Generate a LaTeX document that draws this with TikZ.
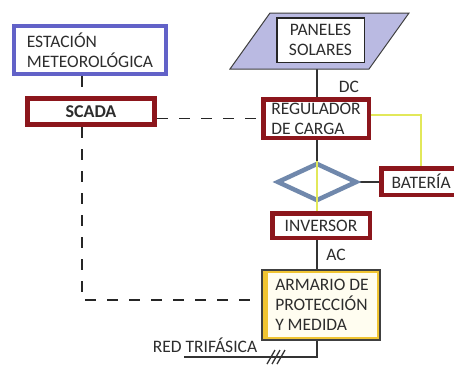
\documentclass[tikz,border=0pt]{standalone}
\usepackage{fontspec}
\setmainfont{Carlito}
\usetikzlibrary{shapes.geometric,calc}
\definecolor{boxred}{RGB}{140,22,28}
\definecolor{estblue}{RGB}{98,98,200}
\definecolor{panfill}{RGB}{186,186,226}
\definecolor{diablue}{RGB}{112,136,172}
\definecolor{ylwline}{RGB}{226,232,90}
\definecolor{goldy}{RGB}{240,196,50}
\definecolor{txt}{RGB}{45,45,45}
\pgfdeclarelayer{bg}
\pgfdeclarelayer{paper}
\pgfsetlayers{paper,bg,main}
\begin{document}
\begin{tikzpicture}[x=1pt,y=-1pt,
  font=\fontsize{17.5}{20}\selectfont, text=txt,
  redbox/.style={draw=boxred, line width=4.5pt, fill=white, inner sep=0pt},
  conn/.style={draw=black!80, line width=1.3pt},
  dsh/.style={draw=black!85, line width=1.3pt, dash pattern=on 11pt off 11pt},
  yl/.style={draw=ylwline, line width=1.5pt},
  lbl/.style={inner sep=0pt}]
\begin{pgfonlayer}{paper}
\fill[white] (0,0) rectangle (454,364);
\end{pgfonlayer}
\useasboundingbox (0,0) rectangle (454,364);

% nodes
\node[draw=estblue, line width=4pt, fill=white, minimum width=152pt, minimum height=48pt,
      align=left, inner sep=0pt] (est) at (90,50) {ESTACIÓN\\METEOROLÓGICA};
\node[redbox, line width=5pt, minimum width=127pt, minimum height=26pt,
      font=\fontsize{18}{20}\selectfont\bfseries] (scada) at (91,111.5) {SCADA};

\path[fill=panfill, draw=black!75, line width=1pt] (270,13) -- (409,13) -- (369,69) -- (230,69) -- cycle;
\node[draw=black!85, line width=1.5pt, fill=white, minimum width=87.5pt, minimum height=44.5pt,
      align=center, inner sep=0pt] (pan) at (320.5,40) {PANELES\\SOLARES};
\coordinate (panb) at (317,69);

\node[redbox, minimum width=105.5pt, minimum height=38.5pt, align=left] (reg) at (316,118.5) {REGULADOR\\DE CARGA};
\node[diamond, draw=diablue, line width=4.5pt, fill=white, aspect=2, inner sep=0pt,
      minimum width=80pt, minimum height=38pt] (dia) at (317,182) {};
\node[redbox, minimum width=86.5pt, minimum height=26.5pt, text width=80pt, align=left] (bat) at (424.5,181.5) {\hspace*{7pt}BATERÍA};
\node[redbox, minimum width=97.5pt, minimum height=24.5pt] (inv) at (321,225.5) {INVERSOR};
\node[draw=black!75, line width=1.3pt, fill={rgb,255:red,255;green,253;blue,240},
      minimum width=118pt, minimum height=70pt, inner sep=0pt] (arm) at (321,305) {};
\draw[goldy, line width=2pt] ($(arm.south west)+(3,-3)$) rectangle ($(arm.north east)+(-3,3)$);
\fill[goldy] ($(arm.north west)+(1.5,2)$) rectangle ($(arm.south west)+(7,-2)$);
\node[align=left, inner sep=0pt] (armt) at (322,305) {ARMARIO DE\\PROTECCIÓN\\Y MEDIDA};

\coordinate (sv) at (82,300);
\coordinate (mx) at (317,0);
\coordinate (yc) at (421,115);
\coordinate (rt) at (184,357);

% labels
\node[lbl] (dc) at (349,87) {DC};
\node[lbl] (ac) at (336,255) {AC};
\node[lbl] (red) at (205,345) {RED TRIFÁSICA};

% connectors
\begin{pgfonlayer}{bg}
\draw[dsh] (est.south -| sv) -- (scada.north -| sv);
\draw[dsh] (scada.south -| sv) -- (sv) -- (sv -| arm.west);
\draw[dsh] (scada.east |- reg.west) -- (reg.west);
\draw[conn] (panb) -- (reg.north -| panb);
\draw[conn] (reg.south -| mx) -- (dia.north);
\draw[yl] (reg.east |- yc) -- (yc) -- (yc |- bat.north);
\draw[conn] (dia.east) -- (bat.west |- dia.east);
\draw[conn] (inv.south -| mx) -- (arm.north -| mx);
\draw[conn] (arm.south -| mx) |- (rt);
\end{pgfonlayer}
\draw[yl] (dia.north) -- (inv.north -| dia.north);
\draw[conn] (267,364) -- (275,350);
\draw[conn] (272,364) -- (280,350);
\draw[conn] (277,364) -- (285,350);
\end{tikzpicture}
\end{document}
